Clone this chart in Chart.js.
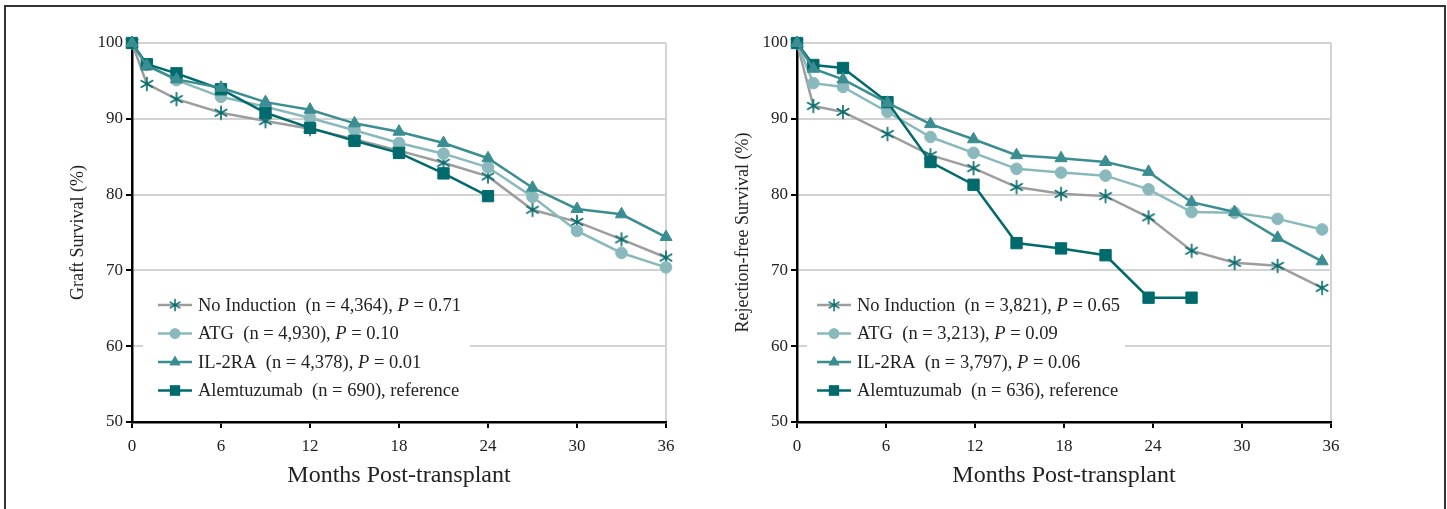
<!DOCTYPE html>
<html>
<head>
<meta charset="utf-8">
<script src="https://cdn.jsdelivr.net/npm/chart.js@4.4.1/dist/chart.umd.min.js"></script>
<style>
html, body { margin: 0; padding: 0; background: #fff; overflow: hidden; }
#frame { position: absolute; left: 4px; top: 5px; width: 1438px; height: 530px; border: 2px solid #333; }
.box { position: absolute; top: 0; width: 720px; height: 509px; }
</style>
</head>
<body>
<div id="frame"></div>
<div class="box" style="left:0"><canvas id="graft" width="720" height="509"></canvas></div>
<div class="box" style="left:665px"><canvas id="rejection" width="720" height="509"></canvas></div>
<script>
// ---- data ----
var xTicks = [0, 6, 12, 18, 24, 30, 36];
var yTicks = [50, 60, 70, 80, 90, 100];

// graft survival
var graftMonths = [0, 1, 3, 6, 9, 12, 15, 18, 21, 24, 27, 30, 33, 36];
var graftNoInd = [100, 94.6, 92.6, 90.8, 89.7, 88.7, 87.3, 85.8, 84.2, 82.4, 78.0, 76.4, 74.1, 71.7];
var graftATG = [100, 97.1, 95.1, 92.9, 91.6, 90.1, 88.5, 86.8, 85.4, 83.6, 79.7, 75.2, 72.3, 70.4];
var graftIL2RA = [100, 97.0, 95.2, 94.1, 92.2, 91.2, 89.4, 88.3, 86.8, 84.8, 80.9, 78.1, 77.4, 74.4];
var graftAlem = [100, 97.2, 96.0, 93.9, 90.8, 88.8, 87.1, 85.5, 82.8, 79.8];
var graftKey = [
    ["No Induction  (n = 4,364), ", "P", " = 0.71"],
    ["ATG  (n = 4,930), ", "P", " = 0.10"],
    ["IL-2RA  (n = 4,378), ", "P", " = 0.01"],
    ["Alemtuzumab  (n = 690), reference"]
];

// rejection-free survival
var rejMonths = [0, 1.1, 3.1, 6.1, 9.0, 11.9, 14.8, 17.8, 20.8, 23.7, 26.6, 29.5, 32.4, 35.4];
var rejNoInd = [100, 91.7, 90.9, 88.0, 85.2, 83.5, 81.0, 80.1, 79.8, 77.0, 72.6, 71.0, 70.6, 67.7];
var rejATG = [100, 94.7, 94.2, 90.9, 87.6, 85.5, 83.4, 82.9, 82.5, 80.7, 77.7, 77.6, 76.8, 75.4];
var rejIL2RA = [100, 96.6, 95.2, 92.1, 89.3, 87.3, 85.2, 84.8, 84.3, 83.0, 79.0, 77.7, 74.3, 71.2];
var rejAlem = [100, 97.1, 96.7, 92.2, 84.3, 81.3, 73.6, 72.9, 72.0, 66.4, 66.4];
var rejKey = [
    ["No Induction  (n = 3,821), ", "P", " = 0.65"],
    ["ATG  (n = 3,213), ", "P", " = 0.09"],
    ["IL-2RA  (n = 3,797), ", "P", " = 0.06"],
    ["Alemtuzumab  (n = 636), reference"]
];

var SERIF = "'Liberation Serif', 'DejaVu Serif', serif";
var INK = "#222";
var GRID = "#d2d2d2";
var grey = "#9d9d9d", dark = "#0a6e70", light = "#89b9bc", mid = "#3a8d91", deep = "#006a6c";

// six-armed asterisk marker
var star = document.createElement("canvas");
star.width = 16; star.height = 16;
(function() {
    var c = star.getContext("2d");
    c.strokeStyle = dark; c.lineWidth = 1.7; c.lineCap = "round";
    for (var k = 0; k < 3; k++) {
        var a = Math.PI / 2 + k * Math.PI / 3;
        c.beginPath();
        c.moveTo(8 + Math.cos(a) * 6.5, 8 - Math.sin(a) * 6.5);
        c.lineTo(8 - Math.cos(a) * 6.5, 8 + Math.sin(a) * 6.5);
        c.stroke();
    }
})();

function pts(xs, ys) {
    return ys.map(function(v, i) { return {x: xs[i], y: v}; });
}

function sets(xs, a, b, c, d) {
    return [
        {data: pts(xs, a), borderColor: grey, pointStyle: star, pointRadius: 7, order: 4},
        {data: pts(xs, b), borderColor: light, backgroundColor: light, pointStyle: "circle", pointRadius: 5.8, order: 3},
        {data: pts(xs, c), borderColor: mid, backgroundColor: mid, pointStyle: "triangle", pointRadius: 7, order: 1},
        {data: pts(xs, d), borderColor: deep, backgroundColor: deep, pointStyle: "rect", pointRadius: 8, order: 2}
    ].map(function(s) {
        s.borderWidth = 2.5; s.pointBorderWidth = 1; s.pointBorderColor = s.borderColor;
        s.pointBackgroundColor = s.backgroundColor || s.borderColor; s.tension = 0; s.clip = false;
        return s;
    });
}

// key drawn inside the plot, with italic P
var seriesKey = {
    id: "seriesKey",
    afterDatasetsDraw: function(chart, args, o) {
        var ctx = chart.ctx, L = chart.chartArea.left;
        ctx.save();
        ctx.fillStyle = "#fff";
        ctx.fillRect(L + o.boxX, 286, o.boxW, 120);
        var rows = [305, 333.5, 362, 390.5];
        chart.data.datasets.forEach(function(ds, i) {
            var y = rows[i];
            ctx.strokeStyle = ds.borderColor; ctx.lineWidth = 2.5;
            ctx.beginPath(); ctx.moveTo(L + o.lineX, y); ctx.lineTo(L + o.lineX + 34, y); ctx.stroke();
            var ps = ds.pointStyle, r = ds.pointRadius * 0.9;
            if (ps === star) {
                ctx.drawImage(star, L + o.lineX + 17 - 7, y - 7, 14, 14);
            } else {
                ctx.fillStyle = ds.backgroundColor;
                Chart.helpers.drawPoint(ctx, {pointStyle: ps, radius: r, rotation: 0, borderWidth: 0}, L + o.lineX + 17, y);
                ctx.fill();
            }
            var x = L + o.textX;
            ctx.fillStyle = INK; ctx.textBaseline = "middle"; ctx.textAlign = "left";
            o.labels[i].forEach(function(part, j) {
                ctx.font = (j === 1 ? "italic " : "") + "18.5px " + SERIF;
                ctx.fillText(part, x, y + 1);
                x += ctx.measureText(part).width;
            });
        });
        ctx.restore();
    }
};

function options(yTitle, key) {
    var tickFont = {family: SERIF, size: 17};
    return {
        responsive: false,
        animation: false,
        layout: {padding: {left: 0, right: 54, top: 43, bottom: 0}, autoPadding: false},
        plugins: {legend: {display: false}, tooltip: {enabled: false}, seriesKey: key},
        scales: {
            x: {
                type: "linear", min: 0, max: 36,
                afterBuildTicks: function(s) { s.ticks = xTicks.map(function(v) { return {value: v}; }); },
                afterFit: function(s) { s.height = 87; },
                ticks: {font: tickFont, color: INK, padding: 8, maxRotation: 0},
                grid: {
                    color: function(c) { return c.tick && c.tick.value === 36 ? GRID : "rgba(0,0,0,0)"; },
                    lineWidth: 2, tickColor: "#000", tickLength: 6, tickWidth: 2
                },
                border: {color: "#000", width: 2.5},
                title: {display: true, text: "Months Post-transplant", color: INK,
                        font: {family: SERIF, size: 24}, padding: {top: 0, bottom: 19}}
            },
            y: {
                min: 50, max: 100,
                afterBuildTicks: function(s) { s.ticks = yTicks.map(function(v) { return {value: v}; }); },
                afterFit: function(s) { s.width = 132; },
                ticks: {font: tickFont, color: INK, padding: 3},
                grid: {
                    color: function(c) { return c.tick && c.tick.value === 50 ? "rgba(0,0,0,0)" : GRID; },
                    lineWidth: 2, tickColor: "#000", tickLength: 6, tickWidth: 2
                },
                border: {color: "#000", width: 2.5},
                title: {display: true, text: yTitle, color: INK,
                        font: {family: SERIF, size: 18}, padding: {top: 67, bottom: 0}}
            }
        }
    };
}

new Chart(document.getElementById("graft"), {
    type: "line",
    data: {datasets: sets(graftMonths, graftNoInd, graftATG, graftIL2RA, graftAlem)},
    options: options("Graft Survival (%)", {boxX: 11, boxW: 327, lineX: 26, textX: 66, labels: graftKey}),
    plugins: [seriesKey]
});

new Chart(document.getElementById("rejection"), {
    type: "line",
    data: {datasets: sets(rejMonths, rejNoInd, rejATG, rejIL2RA, rejAlem)},
    options: options("Rejection-free Survival (%)", {boxX: 10, boxW: 318, lineX: 20, textX: 60, labels: rejKey}),
    plugins: [seriesKey]
});
</script>
</body>
</html>
